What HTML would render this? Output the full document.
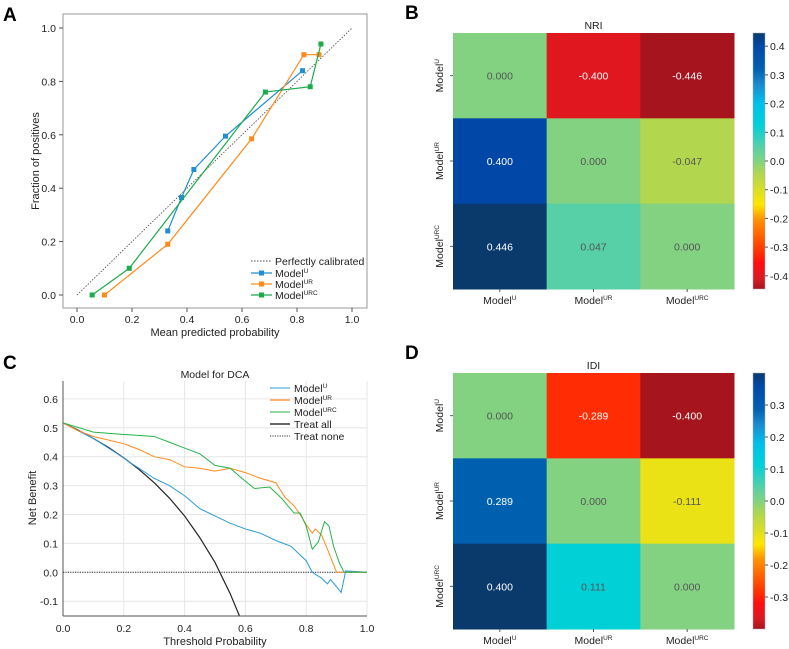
<!DOCTYPE html>
<html><head><meta charset="utf-8"><style>
body{margin:0;background:#fff}
svg{font-family:"Liberation Sans",Arial,sans-serif;display:block}
</style></head><body>
<svg id="fig" width="789" height="649" viewBox="0 0 789 649" xmlns="http://www.w3.org/2000/svg"></svg>
<script>
// ---- Panel A data ----
const calU_x=[0.33,0.38,0.425,0.54,0.82];
const calU_y=[0.24,0.365,0.47,0.595,0.84];
const calUR_x=[0.10,0.33,0.635,0.825,0.88];
const calUR_y=[0.0,0.19,0.585,0.90,0.90];
const calURC_x=[0.055,0.19,0.685,0.848,0.887];
const calURC_y=[0.0,0.10,0.76,0.78,0.94];
const calTicks=[0,0.2,0.4,0.6,0.8,1.0];
// ---- Panel C data ----
const dcaAll_t=[0,0.05,0.1,0.15,0.2,0.25,0.3,0.35,0.4,0.45,0.5,0.55,0.58];
const dcaAll_v=[0.517,0.492,0.463,0.432,0.396,0.356,0.31,0.257,0.195,0.12,0.034,-0.074,-0.15];
const dcaU_t=[0,0.1,0.2,0.22,0.25,0.3,0.35,0.4,0.45,0.5,0.55,0.6,0.65,0.7,0.75,0.78,0.8,0.82,0.85,0.87,0.88,0.9,0.915,0.93,1.0];
const dcaU_v=[0.517,0.463,0.396,0.38,0.36,0.325,0.30,0.265,0.22,0.195,0.17,0.15,0.135,0.11,0.09,0.06,0.04,0.0,-0.02,-0.04,-0.025,-0.05,-0.07,0.005,0.0];
const dcaUR_t=[0,0.05,0.1,0.2,0.25,0.3,0.35,0.4,0.45,0.5,0.55,0.6,0.65,0.7,0.73,0.76,0.78,0.8,0.82,0.83,0.85,0.87,0.9,1.0];
const dcaUR_v=[0.517,0.49,0.47,0.445,0.425,0.40,0.39,0.365,0.36,0.35,0.36,0.345,0.325,0.31,0.26,0.23,0.20,0.165,0.135,0.15,0.13,0.08,0.0,0.0];
const dcaURC_t=[0,0.1,0.2,0.3,0.35,0.4,0.45,0.5,0.55,0.6,0.63,0.68,0.72,0.76,0.78,0.8,0.82,0.84,0.86,0.875,0.89,0.91,0.925,1.0];
const dcaURC_v=[0.517,0.485,0.477,0.47,0.45,0.43,0.41,0.37,0.36,0.315,0.29,0.295,0.255,0.205,0.205,0.16,0.08,0.105,0.175,0.16,0.09,0.03,0.0,0.0];
const dcaXTicks=[0,0.2,0.4,0.6,0.8,1.0];
const dcaYTicks=[-0.1,0,0.1,0.2,0.3,0.4,0.5,0.6];
// ---- Heatmap data ----
const models=["U","UR","URC"];
const nriVals=[[0.000,-0.400,-0.446],[0.400,0.000,-0.047],[0.446,0.047,0.000]];
const idiVals=[[0.000,-0.289,-0.400],[0.289,0.000,-0.111],[0.400,0.111,0.000]];
const nriTicks=[0.4,0.3,0.2,0.1,0.0,-0.1,-0.2,-0.3,-0.4];
const idiTicks=[0.3,0.2,0.1,0.0,-0.1,-0.2,-0.3];

const NS="http://www.w3.org/2000/svg";
const svg=document.getElementById('fig');
function el(tag,attrs,parent,text){const e=document.createElementNS(NS,tag);for(const k in attrs)e.setAttribute(k,attrs[k]);if(text!==undefined)e.textContent=text;(parent||svg).appendChild(e);return e;}
function modelLabel(x,y,sup,parent,size,rot,name){
  const t=el('text',{x:x,y:y,'font-size':size,fill:'#222','text-anchor':'middle'},parent);
  if(rot)t.setAttribute('transform','rotate(-90 '+x+' '+y+')');
  
  
  const a=el('tspan',{},t,'Model');
  const b=el('tspan',{'font-size':size*0.62,dy:-size*0.38},t,sup);
  return t;
}
function panelLetter(x,y,s){const t=el('text',{x:x,y:y,'font-size':19,'font-weight':'bold',fill:'#000'},svg,s);

}

// ===== Panel A =====
panelLetter(3,21,'A');
const gA=el('g',{});


const ax=v=>77+v*275, ay=v=>295-v*267;
el('rect',{x:63,y:14,width:304,height:294,fill:'none',stroke:'#999','stroke-width':1},gA);
calTicks.forEach(v=>{
  el('line',{x1:ax(v),x2:ax(v),y1:308,y2:312,stroke:'#555'},gA);
  el('text',{x:ax(v),y:323,'font-size':10.5,'text-anchor':'middle',fill:'#222'},gA,v.toFixed(1));
  el('line',{x1:59,x2:63,y1:ay(v),y2:ay(v),stroke:'#555'},gA);
  el('text',{x:56,y:ay(v)+4,'font-size':10.5,'text-anchor':'end',fill:'#222'},gA,v.toFixed(1));
});
el('text',{x:215,y:336,'font-size':11,'text-anchor':'middle',fill:'#222'},gA,'Mean predicted probability');
el('text',{x:39,y:161,'font-size':11,'text-anchor':'middle',fill:'#222',transform:'rotate(-90 39 161)'},gA,'Fraction of positives');
el('line',{x1:ax(0),y1:ay(0),x2:ax(1),y2:ay(1),stroke:'#444','stroke-width':0.8,'stroke-dasharray':'1.5,1.5'},gA);
function calSeries(xs,ys,col,name){
  const pts=xs.map((x,i)=>ax(x)+','+ay(ys[i])).join(' ');
  const p=el('polyline',{points:pts,fill:'none',stroke:col,'stroke-width':1.2},gA);
  
  
  xs.forEach((x,i)=>{const r=el('rect',{x:ax(x)-2.5,y:ay(ys[i])-2.5,width:5,height:5,fill:col},gA);
    
    });
}
calSeries(calU_x,calU_y,'#1f8fcf','model-u');
calSeries(calUR_x,calUR_y,'#ff8a1c','model-ur');
calSeries(calURC_x,calURC_y,'#1aab4a','model-urc');
// legend A
const lgA=el('g',{},gA);


el('line',{x1:251,x2:272,y1:261,y2:261,stroke:'#444','stroke-dasharray':'1.5,1.5'},lgA);
el('text',{x:275,y:265,'font-size':10.5,fill:'#222'},lgA,'Perfectly calibrated');
[['#1f8fcf','U'],['#ff8a1c','UR'],['#1aab4a','URC']].forEach((c,i)=>{
  const y=273+i*11;
  el('line',{x1:251,x2:272,y1:y,y2:y,stroke:c[0],'stroke-width':1.2},lgA);
  el('rect',{x:259,y:y-2.5,width:5,height:5,fill:c[0]},lgA);
  const t=el('text',{x:275,y:y+4,'font-size':10.5,fill:'#222'},lgA);
  el('tspan',{},t,'Model');el('tspan',{'font-size':6.5,dy:-4},t,c[1]);
});

// ===== Panel C =====
panelLetter(3,369,'C');
const gC=el('g',{});


const cx=v=>63+v*304, cy=v=>572.3-v*289;
dcaXTicks.forEach(v=>{
  el('line',{x1:cx(v),x2:cx(v),y1:381,y2:616,stroke:'#e6e6e6'},gC);
  el('text',{x:cx(v),y:632,'font-size':10.5,'text-anchor':'middle',fill:'#222'},gC,v.toFixed(1));
});
dcaYTicks.forEach(v=>{
  el('line',{x1:63,x2:367,y1:cy(v),y2:cy(v),stroke:'#e6e6e6'},gC);
  el('text',{x:58,y:cy(v)+4,'font-size':10.5,'text-anchor':'end',fill:'#222'},gC,v.toFixed(1));
});
el('line',{x1:63,x2:63,y1:381,y2:616,stroke:'#555'},gC);
el('line',{x1:63,x2:367,y1:616,y2:616,stroke:'#555'},gC);
el('text',{x:215,y:378,'font-size':10.5,'text-anchor':'middle',fill:'#222'},gC,'Model for DCA');
el('text',{x:215,y:645,'font-size':11,'text-anchor':'middle',fill:'#222'},gC,'Threshold Probability');
el('text',{x:36,y:498,'font-size':11,'text-anchor':'middle',fill:'#222',transform:'rotate(-90 36 498)'},gC,'Net Benefit');
el('line',{x1:63,x2:367,y1:cy(0),y2:cy(0),stroke:'#333','stroke-dasharray':'1.2,1.2'},gC);
el('clipPath',{id:'clipC'},gC);
el('rect',{x:63,y:381,width:304,height:235},document.getElementById('clipC'));
function dcaSeries(ts,vs,col,w,name){
  const p=el('polyline',{points:ts.map((t,i)=>cx(t)+','+cy(vs[i])).join(' '),fill:'none',stroke:col,'stroke-width':w,'clip-path':'url(#clipC)'},gC);
  
  
}
dcaSeries(dcaAll_t,dcaAll_v,'#222',1.2,'treat-all-line');
dcaSeries(dcaU_t,dcaU_v,'#2a9ad6',1,'model-u-line');
dcaSeries(dcaUR_t,dcaUR_v,'#ff8a1c',1,'model-ur-line');
dcaSeries(dcaURC_t,dcaURC_v,'#26b44a',1,'model-urc-line');
const lgC=el('g',{},gC);


[['#2a9ad6','U',1],['#ffb070','UR',2],['#26b44a','URC',1]].forEach((c,i)=>{
  const y=388+i*12;
  el('line',{x1:270,x2:290,y1:y,y2:y,stroke:c[0],'stroke-width':c[2]},lgC);
  const t=el('text',{x:294,y:y+4,'font-size':10.5,fill:'#222'},lgC);
  el('tspan',{},t,'Model');el('tspan',{'font-size':6.5,dy:-4},t,c[1]);
});
el('line',{x1:270,x2:290,y1:424,y2:424,stroke:'#666','stroke-width':2},lgC);
el('text',{x:294,y:428,'font-size':10.5,fill:'#222'},lgC,'Treat all');
el('line',{x1:270,x2:290,y1:436,y2:436,stroke:'#333','stroke-dasharray':'1.2,1.2'},lgC);
el('text',{x:294,y:440,'font-size':10.5,fill:'#222'},lgC,'Treat none');

// ===== Heatmaps =====
const cmapStops=[[-1,'#a6141e'],[-0.92,'#d81a22'],[-0.8,'#ff0d10'],[-0.7,'#ff3500'],[-0.45,'#ff9500'],[-0.34,'#ffe600'],[-0.1,'#b0d650'],[0,'#82d282'],[0.1,'#5ad0a5'],[0.28,'#00d0d8'],[0.45,'#00c0ea'],[0.6,'#1a8ad0'],[0.72,'#0060b0'],[0.9,'#0047a8'],[1,'#0a3a6c']];
function hex(h){return [1,3,5].map(i=>parseInt(h.substr(i,2),16));}
function cmap(t){
  t=Math.max(-1,Math.min(1,t));
  for(let i=1;i<cmapStops.length;i++){
    if(t<=cmapStops[i][0]){const a=cmapStops[i-1],b=cmapStops[i];const f=(t-a[0])/(b[0]-a[0]);
      const ca=hex(a[1]),cb=hex(b[1]);return 'rgb('+ca.map((v,k)=>Math.round(v+(cb[k]-v)*f)).join(',')+')';}
  }
  return cmapStops[cmapStops.length-1][1];
}
function heatmap(top,vals,vmax,ticks,title,letter,name){
  panelLetter(405,top-14,letter);
  const g=el('g',{});
  
  
  const L=453,W=281,H=256,cw=W/3,ch=H/3;
  el('text',{x:L+W/2,y:top-4,'font-size':10.5,'text-anchor':'middle',fill:'#222'},g,title);
  vals.forEach((row,r)=>row.forEach((v,c)=>{
    const t=v/vmax;
    const rc=el('rect',{x:L+c*cw,y:top+r*ch,width:cw+0.5,height:ch+0.5,fill:cmap(t)},g);
    
    
    el('text',{x:L+c*cw+cw/2,y:top+r*ch+ch/2+4,'font-size':10.5,'text-anchor':'middle',fill:Math.abs(t)>0.6?'#fff':'#555'},g,v.toFixed(3));
  }));
  models.forEach((m,i)=>{
    el('line',{x1:L+i*cw+cw/2,x2:L+i*cw+cw/2,y1:top+H,y2:top+H+3,stroke:'#555'},g);
    modelLabel(L+i*cw+cw/2,top+H+15,m,g,10.5,false,'col-label-'+m.toLowerCase());
    el('line',{x1:L-3,x2:L,y1:top+i*ch+ch/2,y2:top+i*ch+ch/2,stroke:'#555'},g);
    modelLabel(L-10,top+i*ch+ch/2,m,g,10.5,true,'row-label-'+m.toLowerCase());
  });
  // colorbar
  const gid='grad'+letter;
  const lg=el('linearGradient',{id:gid,x1:0,y1:1,x2:0,y2:0},g);
  cmapStops.forEach(s=>el('stop',{offset:((s[0]+1)/2),'stop-color':s[1]},lg));
  const cb=el('rect',{x:753,y:top,width:12,height:H,fill:'url(#'+gid+')',stroke:'#aab','stroke-width':0.5},g);
  
  
  ticks.forEach(v=>{
    const y=top+H/2-v/vmax*H/2;
    el('line',{x1:765,x2:768,y1:y,y2:y,stroke:'#555'},g);
    el('text',{x:770,y:y+4,'font-size':10.5,fill:'#222'},g,v.toFixed(1));
  });
}
heatmap(33,nriVals,0.446,nriTicks,'NRI','B','nri-heatmap');
heatmap(373,idiVals,0.4,idiTicks,'IDI','D','idi-heatmap');
</script>
</body></html>
